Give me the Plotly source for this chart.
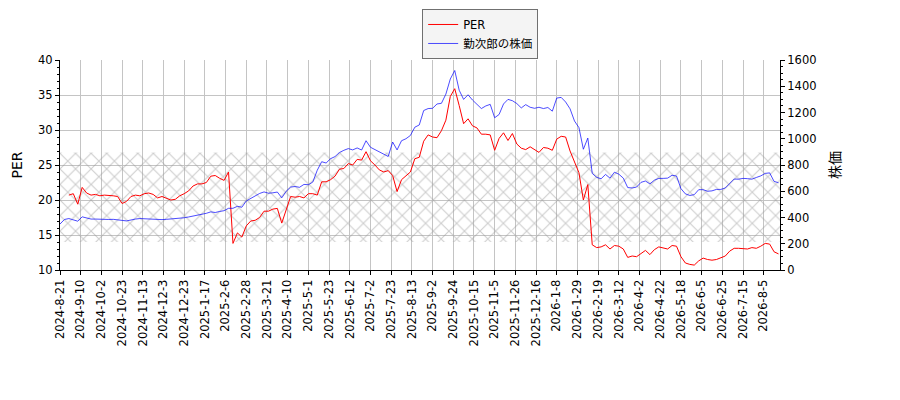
import plotly.graph_objects as go

# trading-day samples, every 3rd session starting 2024-8-21
step = 3

per = [
    None, None, 20.7, 20.9, 19.4, 21.8, 21.0, 20.7, 20.8, 20.6,
    20.7, 20.7, 20.6, 20.5, 19.5, 19.8, 20.5, 20.7, 20.6, 20.9,
    21.0, 20.8, 20.3, 20.5, 20.3, 20.0, 20.1, 20.6, 20.9, 21.3,
    22.0, 22.3, 22.3, 22.5, 23.4, 23.5, 23.1, 22.8, 24.0, 13.8,
    15.3, 14.7, 16.3, 17.0, 17.1, 17.5, 18.4, 18.4, 18.7, 18.8,
    16.7, 18.6, 20.5, 20.4, 20.5, 20.3, 20.9, 20.9, 20.7, 22.6,
    22.6, 22.9, 23.4, 24.4, 24.5, 25.2, 25.0, 25.8, 25.7, 26.9,
    25.6, 25.0, 24.3, 24.0, 24.2, 23.5, 21.2, 22.9, 23.4, 24.0,
    25.9, 26.1, 28.4, 29.3, 29.0, 28.9, 29.9, 31.4, 34.8, 35.9,
    33.5, 30.9, 31.6, 30.6, 30.3, 29.4, 29.4, 29.3, 27.1, 28.8,
    29.6, 28.5, 29.5, 28.0, 27.4, 27.2, 27.6, 27.2, 26.8, 27.5,
    27.4, 27.1, 28.7, 29.1, 29.0, 27.0, 25.3, 23.9, 20.0, 22.2,
    13.6, 13.2, 13.3, 13.6, 13.0, 13.5, 13.4, 13.0, 11.8, 12.0,
    11.9, 12.3, 12.8, 12.2, 12.9, 13.3, 13.1, 13.0, 13.5, 13.4,
    11.9, 11.0, 10.8, 10.7, 11.3, 11.7, 11.5, 11.4, 11.5, 11.7,
    12.0, 12.7, 13.1, 13.1, 13.1, 13.0, 13.2, 13.1, 13.4, 13.8,
    13.7, 12.6, 12.3,
]

price = [
    350, 385, 392, 380, 372, 405, 394, 388, 388, 386,
    388, 385, 386, 384, 378, 374, 382, 388, 392, 390,
    386, 384, 381, 384, 386, 388, 392, 394, 398, 404,
    411, 415, 422, 432, 443, 438, 446, 452, 470, 470,
    485, 478, 526, 546, 560, 583, 595, 585, 588, 594,
    550, 600, 632, 636, 630, 652, 650, 670, 760, 825,
    815, 848, 864, 895, 912, 925, 915, 930, 914, 985,
    935, 918, 902, 887, 865, 975, 915, 985, 1000, 1025,
    1088, 1105, 1215, 1230, 1232, 1265, 1270, 1340, 1455, 1520,
    1370, 1300, 1335, 1295, 1260, 1230, 1250, 1262, 1160, 1185,
    1265, 1300, 1290, 1268, 1235, 1260, 1240, 1232, 1240, 1230,
    1238, 1210, 1310, 1315, 1280, 1228, 1135, 1085, 920, 1005,
    736, 706, 695, 728, 700, 745, 730, 700, 628, 625,
    632, 668, 678, 656, 684, 698, 698, 700, 722, 716,
    620, 580, 568, 574, 612, 612, 600, 603, 614, 614,
    625, 660, 693, 692, 698, 696, 692, 705, 717, 736,
    740, 675, 665,
]

tick_labels = [
    "2024-8-21", "2024-9-10", "2024-10-2", "2024-10-23", "2024-11-13",
    "2024-12-3", "2024-12-23", "2025-1-17", "2025-2-6", "2025-2-28",
    "2025-3-21", "2025-4-10", "2025-5-1", "2025-5-23", "2025-6-12",
    "2025-7-2", "2025-7-23", "2025-8-13", "2025-9-2", "2025-9-24",
    "2025-10-15", "2025-11-5", "2025-11-26", "2025-12-16", "2026-1-8",
    "2026-1-29", "2026-2-19", "2026-3-12", "2026-4-2", "2026-4-22",
    "2026-5-18", "2026-6-5", "2026-6-25", "2026-7-15", "2026-8-5",
]
tick_every = 14  # sessions between labels

band_low, band_high = 14.0, 26.8

x = [i * step for i in range(len(per))]
x_end = x[-1] + 1

font = "DejaVu Sans, Noto Sans CJK JP, sans-serif"

fig = go.Figure()

# hatched PER band
fig.add_trace(go.Scatter(
    x=[0, x_end, x_end, 0, 0], y=[band_low, band_low, band_high, band_high, band_low],
    mode="lines", line=dict(width=0), fill="toself",
    fillcolor="rgba(0,0,0,0)",
    fillpattern=dict(shape="x", fgcolor="#999999", bgcolor="rgba(0,0,0,0)",
                     size=11, solidity=0.18),
    showlegend=False, hoverinfo="skip",
))

fig.add_trace(go.Scatter(x=x, y=per, mode="lines", name="PER",
                         line=dict(color="red", width=1)))
fig.add_trace(go.Scatter(x=x, y=price, mode="lines", name="勤次郎の株価",
                         line=dict(color="rgba(0,0,255,0.7)", width=1), yaxis="y2"))

# page body has an 8px margin, so the figure is sized/offset to compensate
fig.update_layout(
    width=892, height=392,
    margin=dict(l=52, r=120, t=52, b=130, autoexpand=False),
    paper_bgcolor="white", plot_bgcolor="white",
    font=dict(family=font, size=11.5, color="black"),
    xaxis=dict(
        range=[0, x_end], automargin=False,
        tickvals=[k * tick_every for k in range(len(tick_labels))],
        ticktext=tick_labels, tickangle=-90,
        showgrid=True, gridcolor="#c4c4c4", gridwidth=1,
        ticks="outside", ticklen=4, tickcolor="black",
        showline=True, linecolor="black", linewidth=1,
        zeroline=False,
    ),
    yaxis=dict(
        range=[10, 40], dtick=5, automargin=False,
        title=dict(text="PER", standoff=12),
        showgrid=True, gridcolor="#c4c4c4", gridwidth=1,
        ticks="outside", ticklen=4, tickcolor="black",
        minor=dict(dtick=1, ticks="outside", ticklen=2, tickcolor="black", showgrid=False),
        showline=True, linecolor="black", linewidth=1, zeroline=False,
    ),
    yaxis2=dict(
        range=[0, 1600], dtick=200, automargin=False,
        title=dict(text="株価", standoff=14),
        overlaying="y", side="right", showgrid=False,
        ticks="outside", ticklen=4, tickcolor="black",
        minor=dict(dtick=50, ticks="outside", ticklen=2, tickcolor="black", showgrid=False),
        showline=True, linecolor="black", linewidth=1, zeroline=False,
    ),
    legend=dict(
        x=0.503, y=1.243, xanchor="left", yanchor="top",
        bgcolor="#f4f4f4", bordercolor="#707070", borderwidth=1,
        font=dict(size=11.5), itemwidth=30, tracegroupgap=0,
    ),
)

fig.write_html("out.html")
